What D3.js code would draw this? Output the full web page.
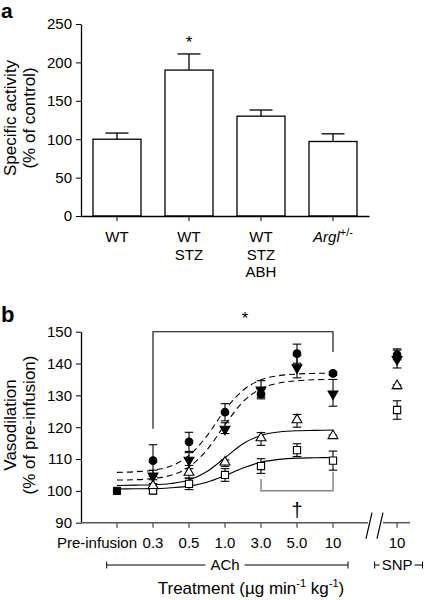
<!DOCTYPE html>
<html><head><meta charset="utf-8">
<script src="https://cdn.jsdelivr.net/npm/d3@7"></script>
<style>body{margin:0;background:#fff}svg{display:block}text{font-family:"Liberation Sans",Arial,Helvetica,sans-serif;fill:#000}</style>
</head><body><svg id="c" width="425" height="600"></svg>
<script>
// ---------- Panel a data ----------
const groupsA = ["WT", "WT STZ", "WT STZ ABH", "Argl+/-"];
const groupLinesA = [["WT"], ["WT", "STZ"], ["WT", "STZ", "ABH"], ["Argl"]];
const valuesA = [100, 190, 130, 97];
const errorsA = [8, 21, 8, 10];
const ticksA = [0, 50, 100, 150, 200, 250];

// ---------- Panel b data ----------
const dosesB = ["Pre-infusion", "0.3", "0.5", "1.0", "3.0", "5.0", "10"];
const doseIndex = [0, 1, 2, 3, 4, 5, 6];
const snpIndex = 7.78;
const snpLabel = "10";
const preValue = 100;
const circles = [109.5, 115.4, 124.7, 130.4, 143.1, 136.9];
const circlesErr = [5, 3, 2.7, 1.5, 3, 0.5];
const circlesSNP = [142.7, 1.5];
const downTri = [105.0, 110.0, 119.7, 132.0, 139.0, 130.8];
const downTriErr = [1.5, 2, 1.7, 2.6, 3.5, 4.2];
const downTriSNP = [141.6, 3];
const openTri = [101.3, 105.5, 108.7, 116.3, 122.0, 117.0];
const openTriErr = [1, 1.5, 1, 2, 2, 0.5];
const openTriSNP = [132.7, 0.6];
const squares = [100.1, 102.2, 105.0, 107.8, 112.8, 109.5];
const squaresErr = [1, 1.8, 2, 2.3, 2, 3];
const squaresSNP = [125.4, 2.9];
// fitted curves read at half-step positions (index 0..6)
const curveX = [0, 0.5, 1, 1.5, 2, 2.5, 3, 3.5, 4, 4.5, 5, 5.5, 6];
const fitCircles = [105.8, 106.0, 106.5, 107.8, 111.1, 117.3, 125.4, 131.6, 134.9, 136.2, 136.7, 136.9, 137.0];
const fitDownTri = [103.4, 103.5, 103.9, 104.9, 107.5, 112.9, 120.8, 128.0, 132.1, 133.9, 134.6, 134.9, 135.0];
const fitOpenTri = [101.7, 101.8, 101.9, 102.3, 103.4, 106.1, 110.4, 114.8, 117.4, 118.5, 118.9, 119.0, 119.1];
const fitSquares = [100.6, 100.65, 100.7, 101.0, 101.5, 102.7, 104.8, 107.2, 109.0, 109.9, 110.3, 110.4, 110.5];
const ticksB = [90, 100, 110, 120, 130, 140, 150];

const svg = d3.select("#c");
svg.append("rect").attr("width", 425).attr("height", 600).attr("fill", "#fff");
const FS = 15;

// ================= Panel a =================
const gA = svg.append("g");
gA.append("text").attr("x", 1).attr("y", 18).attr("font-size", 21).attr("font-weight", "bold").text("a");
const yA = d3.scaleLinear().domain([0, 250]).range([216, 24]);
const xA = d3.scaleBand().domain(groupsA).range([81, 369]).paddingInner(1/3).paddingOuter(1/6);

const yAxA = gA.append("g").attr("transform", "translate(81,0)")
  .call(d3.axisLeft(yA).tickValues(ticksA).tickSize(5).tickPadding(4).tickSizeOuter(0));
yAxA.selectAll("text").attr("font-size", FS).attr("font-family", null);
yAxA.select(".domain").attr("stroke-width", 1.3);

// error bars (up only)
groupsA.forEach((g, i) => {
  const cx = xA(g) + xA.bandwidth() / 2;
  gA.append("line").attr("x1", cx).attr("x2", cx).attr("y1", yA(valuesA[i])).attr("y2", yA(valuesA[i] + errorsA[i]))
    .attr("stroke", "#000").attr("stroke-width", 1.3);
  gA.append("line").attr("x1", cx - 11.5).attr("x2", cx + 11.5).attr("y1", yA(valuesA[i] + errorsA[i])).attr("y2", yA(valuesA[i] + errorsA[i]))
    .attr("stroke", "#000").attr("stroke-width", 1.3);
});
gA.selectAll("rect.bar").data(groupsA).join("rect").attr("class", "bar")
  .attr("x", d => xA(d)).attr("width", xA.bandwidth())
  .attr("y", (d, i) => yA(valuesA[i])).attr("height", (d, i) => yA(0) - yA(valuesA[i]))
  .attr("fill", "#fff").attr("stroke", "#000").attr("stroke-width", 1.3);

const xAxA = gA.append("g").attr("transform", "translate(0,216)")
  .call(d3.axisBottom(xA).tickSize(5).tickSizeOuter(0).tickFormat(""));
xAxA.select(".domain").attr("stroke-width", 1.3);
groupsA.forEach((g, i) => {
  const cx = xA(g) + xA.bandwidth() / 2;
  if (i === 3) {
    const t = gA.append("text").attr("x", cx).attr("y", 242).attr("text-anchor", "middle").attr("font-size", FS);
    t.append("tspan").attr("font-style", "italic").text("Argl");
    t.append("tspan").attr("font-size", 11).attr("dy", -6).text("+/-");
  } else {
    groupLinesA[i].forEach((ln, j) => {
      gA.append("text").attr("x", cx).attr("y", 242 + j * 17.5).attr("text-anchor", "middle").attr("font-size", FS).text(ln);
    });
  }
});
gA.append("text").attr("x", xA(groupsA[1]) + xA.bandwidth() / 2).attr("y", 48).attr("text-anchor", "middle").attr("font-size", 17).text("*");
gA.append("text").attr("transform", "translate(15.5,118) rotate(-90)").attr("text-anchor", "middle").attr("font-size", 17).text("Specific activity");
gA.append("text").attr("transform", "translate(35,118) rotate(-90)").attr("text-anchor", "middle").attr("font-size", 17).text("(% of control)");

// ================= Panel b =================
const gB = svg.append("g");
gB.append("text").attr("x", 1).attr("y", 322).attr("font-size", 22).attr("font-weight", "bold").text("b");
const yB = d3.scaleLinear().domain([90, 150]).range([522.7, 331.7]);
const xB = d3.scaleLinear().domain([0, 6]).range([117, 333]);

const yAxB = gB.append("g").attr("transform", "translate(81,0)")
  .call(d3.axisLeft(yB).tickValues(ticksB).tickSize(5).tickPadding(4).tickSizeOuter(0));
yAxB.selectAll("text").attr("font-size", FS).attr("font-family", null);
yAxB.select(".domain").attr("stroke-width", 1.3);

// x axis (broken)
const axY = yB(90);
gB.append("line").attr("x1", 81).attr("x2", 368).attr("y1", axY).attr("y2", axY).attr("stroke", "#555").attr("stroke-width", 1.5);
gB.append("line").attr("x1", 383).attr("x2", 410).attr("y1", axY).attr("y2", axY).attr("stroke", "#555").attr("stroke-width", 1.5);
[366, 377].forEach(x0 => {
  gB.append("line").attr("x1", x0).attr("x2", x0 + 6).attr("y1", axY + 16).attr("y2", axY - 10).attr("stroke", "#000").attr("stroke-width", 1.2);
});
doseIndex.concat([snpIndex]).forEach(i => {
  gB.append("line").attr("x1", xB(i)).attr("x2", xB(i)).attr("y1", axY).attr("y2", axY + 5).attr("stroke", "#555").attr("stroke-width", 1.3);
});
dosesB.forEach((d, i) => {
  const t = gB.append("text").attr("y", 548).attr("font-size", FS).text(d);
  if (i === 0) t.attr("x", xB(i) + 20).attr("text-anchor", "end");
  else t.attr("x", xB(i)).attr("text-anchor", "middle");
});
gB.append("text").attr("x", xB(snpIndex)).attr("y", 548).attr("text-anchor", "middle").attr("font-size", FS).text(snpLabel);

// ACh / SNP brackets
const brY = 565;
const achMid = xB(3);
const achText = gB.append("text").attr("x", achMid).attr("y", brY + 5).attr("text-anchor", "middle").attr("font-size", FS).text("ACh");
const aw = achText.node().getComputedTextLength();
[[106.7, achMid - aw / 2 - 5], [achMid + aw / 2 + 5, 348]].forEach(([a, b]) => {
  gB.append("line").attr("x1", a).attr("x2", b).attr("y1", brY).attr("y2", brY).attr("stroke", "#000").attr("stroke-width", 1);
});
[106.7, 348].forEach(x0 => gB.append("line").attr("x1", x0).attr("x2", x0).attr("y1", brY - 3.5).attr("y2", brY + 3.5).attr("stroke", "#000"));
const snpText = gB.append("text").attr("x", xB(snpIndex)).attr("y", brY + 5).attr("text-anchor", "middle").attr("font-size", FS).text("SNP");
const sw = snpText.node().getComputedTextLength();
const sL = xB(snpIndex) - sw / 2 - 2, sR = xB(snpIndex) + sw / 2 + 2;
gB.append("line").attr("x1", sL - 5).attr("x2", sL).attr("y1", brY).attr("y2", brY).attr("stroke", "#000");
gB.append("line").attr("x1", sL - 5).attr("x2", sL - 5).attr("y1", brY - 3.5).attr("y2", brY + 3.5).attr("stroke", "#000");
gB.append("line").attr("x1", sR).attr("x2", sR + 8).attr("y1", brY).attr("y2", brY).attr("stroke", "#000");
gB.append("line").attr("x1", sR + 8).attr("x2", sR + 8).attr("y1", brY - 3.5).attr("y2", brY + 3.5).attr("stroke", "#000");

// axis titles
const tt = gB.append("text").attr("x", 251).attr("y", 594).attr("text-anchor", "middle").attr("font-size", 17);
tt.append("tspan").text("Treatment (\u00b5g min");
tt.append("tspan").attr("font-size", 11).attr("dy", -7).text("-1");
tt.append("tspan").attr("dy", 7).text(" kg");
tt.append("tspan").attr("font-size", 11).attr("dy", -7).text("-1");
tt.append("tspan").attr("dy", 7).text(")");
gB.append("text").attr("transform", "translate(15.5,425) rotate(-90)").attr("text-anchor", "middle").attr("font-size", 17).text("Vasodilation");
gB.append("text").attr("transform", "translate(35,425) rotate(-90)").attr("text-anchor", "middle").attr("font-size", 17).text("(% of pre-infusion)");

// significance brackets
const starPath = d3.path();
starPath.moveTo(xB(1), yB(109.5 + 5) - 16); starPath.lineTo(xB(1), yB(150)); starPath.lineTo(xB(6), yB(150)); starPath.lineTo(xB(6), yB(137) - 21);
gB.append("path").attr("d", starPath.toString()).attr("fill", "none").attr("stroke", "#000").attr("stroke-width", 1.1);
gB.append("text").attr("x", (xB(1) + xB(6)) / 2 + 2).attr("y", 324).attr("text-anchor", "middle").attr("font-size", 17).text("*");
const dag = d3.path();
dag.moveTo(xB(4), yB(103.8)); dag.lineTo(xB(4), yB(100)); dag.lineTo(xB(6), yB(100)); dag.lineTo(xB(6), yB(106));
gB.append("path").attr("d", dag.toString()).attr("fill", "none").attr("stroke", "#888").attr("stroke-width", 1.5);
gB.append("text").attr("x", xB(5)).attr("y", 517).attr("text-anchor", "middle").attr("font-size", 20).text("\u2020");

// fitted curves
const line = d3.line().x((d, i) => xB(curveX[i])).y(d => yB(d)).curve(d3.curveMonotoneX);
[[fitCircles, "6,4"], [fitDownTri, "6,4"], [fitOpenTri, null], [fitSquares, null]].forEach(([arr, dash]) => {
  gB.append("path").attr("d", line(arr)).attr("fill", "none").attr("stroke", "#000").attr("stroke-width", 1.1)
    .attr("stroke-dasharray", dash);
});

// series
const series = [
  { v: squares, e: squaresErr, snp: squaresSNP, sym: d3.symbolSquare, size: 52, fill: "#fff", rot: 0 },
  { v: openTri, e: openTriErr, snp: openTriSNP, sym: d3.symbolTriangle, size: 42, fill: "#fff", rot: 0 },
  { v: downTri, e: downTriErr, snp: downTriSNP, sym: d3.symbolTriangle, size: 42, fill: "#000", rot: 180 },
  { v: circles, e: circlesErr, snp: circlesSNP, sym: d3.symbolCircle, size: 46, fill: "#000", rot: 0 }
];
const errG = gB.append("g"), symG = gB.append("g");
series.forEach(s => {
  const pts = s.v.map((v, k) => ({ x: xB(doseIndex[k + 1]), v, e: s.e[k] }));
  pts.push({ x: xB(snpIndex), v: s.snp[0], e: s.snp[1] });
  pts.forEach(p => {
    const y1 = yB(p.v + p.e), y2 = yB(p.v - p.e);
    errG.append("line").attr("x1", p.x).attr("x2", p.x).attr("y1", y1).attr("y2", y2).attr("stroke", "#000").attr("stroke-width", 1.1);
    [y1, y2].forEach(yy => errG.append("line").attr("x1", p.x - 4.3).attr("x2", p.x + 4.3).attr("y1", yy).attr("y2", yy).attr("stroke", "#000").attr("stroke-width", 1.1));
    symG.append("path").attr("d", d3.symbol(s.sym, s.size)())
      .attr("transform", `translate(${p.x},${yB(p.v) + (s.rot ? 1 : (s.sym === d3.symbolTriangle ? -1 : 0))}) rotate(${s.rot})`)
      .attr("fill", s.fill).attr("stroke", "#000").attr("stroke-width", 1.1);
  });
});
symG.append("path").attr("d", d3.symbol(d3.symbolSquare, 52)()).attr("transform", `translate(${xB(0)},${yB(preValue)})`)
  .attr("fill", "#000").attr("stroke", "#000");
</script></body></html>
